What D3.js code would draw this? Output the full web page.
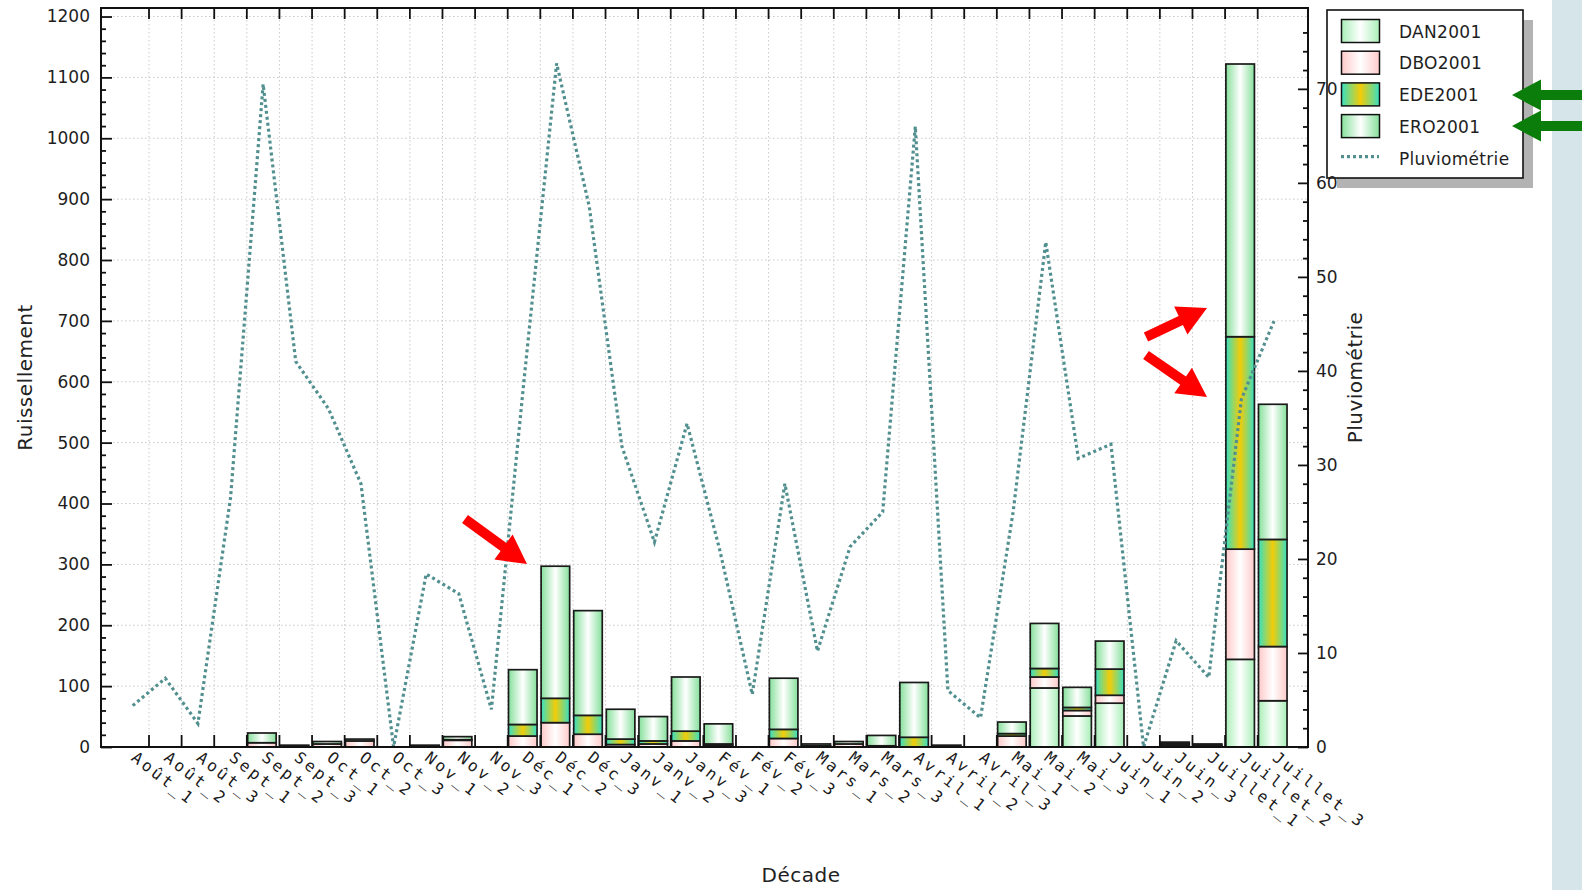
<!DOCTYPE html>
<html>
<head>
<meta charset="utf-8">
<script src="https://cdn.jsdelivr.net/npm/d3@7"></script>
<style>
  html, body { margin: 0; padding: 0; background: #fff; }
  svg { display: block; }
  .axis text { font-family: "DejaVu Sans", sans-serif; font-size: 17px; fill: #1e1e1e; }
  .axis line { stroke: #111; stroke-width: 1.8; }
  .axis .domain { display: none; }
  .cat-label { font-family: "DejaVu Sans Mono", monospace; font-size: 16px; letter-spacing: 2.9px; fill: #1a1a1a; }
  .axis-title { font-family: "DejaVu Sans", sans-serif; font-size: 20px; fill: #222; letter-spacing: 0.5px; }
  .legend-text { font-family: "DejaVu Sans", sans-serif; font-size: 17px; letter-spacing: 0.3px; fill: #1e1e1e; }
  .grid line { stroke: #c9c9c9; stroke-width: 1; stroke-dasharray: 1.5 2.5; }
</style>
</head>
<body>
<svg id="chart" width="1582" height="890"></svg>
<script>
/* ============================================
   Ruissellement / Pluviométrie par décade
   ============================================ */

const decades = ['Août_1', 'Août_2', 'Août_3', 'Sept_1', 'Sept_2', 'Sept_3',
  'Oct_1', 'Oct_2', 'Oct_3', 'Nov_1', 'Nov_2', 'Nov_3',
  'Déc_1', 'Déc_2', 'Déc_3', 'Janv_1', 'Janv_2', 'Janv_3',
  'Fév_1', 'Fév_2', 'Fév_3', 'Mars_1', 'Mars_2', 'Mars_3',
  'Avril_1', 'Avril_2', 'Avril_3', 'Mai_1', 'Mai_2', 'Mai_3',
  'Juin_1', 'Juin_2', 'Juin_3', 'Juillet_1', 'Juillet_2', 'Juillet_3'];

// stacked runoff, bottom to top
const dan2001 = [0, 0, 0, 0, 0, 0, 0, 0, 0, 0, 0, 0, 0, 0, 0, 0, 0, 0,
  0, 0, 0, 0, 0, 0, 0, 0, 0, 0, 97, 51, 72, 0, 3, 2, 144, 76];
const dbo2001 = [0, 0, 0, 0, 7, 1, 5, 10, 0, 1, 11, 0, 18, 40, 21, 4, 5, 10,
  3, 0, 14, 2, 5, 2, 0, 0, 0, 18, 18, 9, 13, 0, 2, 1, 181, 89];
const ede2001 = [0, 0, 0, 0, 0, 0, 0, 0, 0, 0, 1, 0, 19, 40, 31, 9, 5, 16,
  2, 0, 15, 0, 0, 0, 16, 0, 0, 4, 14, 5, 43, 0, 1, 0, 349, 176];
const ero2001 = [0, 0, 0, 0, 16, 2, 4, 3, 0, 2, 5, 0, 90, 217, 172, 49, 40, 89,
  33, 0, 84, 3, 4, 17, 90, 3, 0, 19, 74, 33, 46, 0, 2, 2, 448, 222];

// rainfall (right axis)
const pluviometrie = [4.4, 7.3, 2.5, 26.5, 70.5, 41, 36, 28, 0, 18.4, 16.3, 4,
  39, 72.7, 57.5, 32, 21.8, 34.4, 21, 5.6, 28, 10.2, 21.3, 25,
  66, 6, 3.1, 25, 53.7, 30.7, 32.2, 0, 11.3, 7.4, 37, 45.3];

const leftTicks = [0, 100, 200, 300, 400, 500, 600, 700, 800, 900, 1000, 1100, 1200];
const rightTicks = [0, 10, 20, 30, 40, 50, 60, 70];

const seriesStyle = [
  { key: 'DAN2001', stops: ['#a9efb7', '#ffffff', '#a9efb7'] },
  { key: 'DBO2001', stops: ['#ffcaca', '#ffffff', '#ffcaca'] },
  { key: 'EDE2001', stops: ['#36e0c4', '#f2cc08', '#36e0c4'] },
  { key: 'ERO2001', stops: ['#86e09b', '#ffffff', '#86e09b'] }
];
const lineColor = '#528f8f';

const plot = { left: 101, right: 1308, top: 8, bottom: 747 };
const svg = d3.select('#chart');

// background + side strip
svg.append('rect').attr('width', 1582).attr('height', 890).attr('fill', '#fff');
svg.append('rect').attr('x', 1552).attr('y', 0).attr('width', 30).attr('height', 890)
  .attr('fill', '#d5e5ea');

// gradients (edge -> centre -> edge)
const defs = svg.append('defs');
seriesStyle.forEach(s => {
  const g = defs.append('linearGradient').attr('id', 'grad-' + s.key)
    .attr('x1', 0).attr('x2', 1).attr('y1', 0).attr('y2', 0);
  s.stops.forEach((c, i) => {
    g.append('stop').attr('offset', (i * 50) + '%').attr('stop-color', c);
  });
});

// scales
const x = d3.scaleBand().domain(decades)
  .range([plot.left + 15.4, plot.right - 17.7]);
const yL = d3.scaleLinear().domain([0, 1214]).range([plot.bottom, plot.top]);
const yR = d3.scaleLinear().domain([0, 78.6]).range([plot.bottom, plot.top]);
const bounds = decades.slice(1).map(d => x(d));

// grid
const grid = svg.append('g').attr('class', 'grid');
grid.selectAll('.h').data(leftTicks.slice(1)).join('line')
  .attr('x1', plot.left).attr('x2', plot.right)
  .attr('y1', d => yL(d)).attr('y2', d => yL(d));
grid.selectAll('.v').data(bounds).join('line')
  .attr('x1', d => d).attr('x2', d => d)
  .attr('y1', plot.top).attr('y2', plot.bottom);

// stacked bars
const rows = decades.map((d, i) => ({
  decade: d, DAN2001: dan2001[i], DBO2001: dbo2001[i],
  EDE2001: ede2001[i], ERO2001: ero2001[i]
}));
const stacked = d3.stack().keys(seriesStyle.map(s => s.key))(rows);
const barW = x.bandwidth() * 0.9;

svg.append('g').selectAll('g').data(stacked).join('g')
  .attr('fill', s => `url(#grad-${s.key})`)
  .selectAll('rect')
  .data(s => s.filter(d => d[1] - d[0] > 0))
  .join('rect')
  .attr('x', d => x(d.data.decade) + 0.8)
  .attr('width', barW - 0.8)
  .attr('y', d => yL(d[1]))
  .attr('height', d => yL(d[0]) - yL(d[1]))
  .attr('stroke', '#1a1a1a')
  .attr('stroke-width', 1.7);

// category ticks (top and bottom, at category boundaries)
const catTicks = svg.append('g').attr('stroke', '#111').attr('stroke-width', 1.8);
catTicks.selectAll('.b').data(bounds).join('line')
  .attr('x1', d => d).attr('x2', d => d)
  .attr('y1', plot.bottom).attr('y2', plot.bottom - 12);
catTicks.selectAll('.t').data(bounds).join('line')
  .attr('x1', d => d).attr('x2', d => d)
  .attr('y1', plot.top).attr('y2', plot.top + 11);

// rainfall line
const line = d3.line()
  .x((d, i) => x(decades[i]) + x.bandwidth() / 2)
  .y(d => yR(d));
svg.append('path').datum(pluviometrie)
  .attr('d', line)
  .attr('fill', 'none')
  .attr('stroke', lineColor)
  .attr('stroke-width', 3.2)
  .attr('stroke-dasharray', '3 3');

// frame
svg.append('rect')
  .attr('x', plot.left).attr('y', plot.top)
  .attr('width', plot.right - plot.left).attr('height', plot.bottom - plot.top)
  .attr('fill', 'none').attr('stroke', '#111').attr('stroke-width', 2);

// left axis
const minorL = d3.range(20, 1201, 20).filter(v => v % 100 !== 0);
svg.append('g').attr('class', 'axis').attr('transform', `translate(${plot.left},0)`)
  .call(d3.axisLeft(yL).tickValues(minorL).tickSizeInner(-5).tickSizeOuter(0).tickFormat(''));
svg.append('g').attr('class', 'axis').attr('transform', `translate(${plot.left},0)`)
  .call(d3.axisLeft(yL).tickValues(leftTicks).tickSizeInner(-11).tickSizeOuter(0)
    .tickPadding(11).tickFormat(d3.format('d')));

// category labels, rotated
svg.append('g').selectAll('text').data(decades).join('text')
  .attr('class', 'cat-label')
  .attr('transform', d => `translate(${x(d) + x.bandwidth() / 2 + 5},${plot.bottom + 3}) rotate(38)`)
  .attr('dy', '0.75em')
  .text(d => d);

// axis titles
svg.append('text').attr('class', 'axis-title')
  .attr('transform', `translate(32,${(plot.top + plot.bottom) / 2}) rotate(-90)`)
  .attr('text-anchor', 'middle').text('Ruissellement');
svg.append('text').attr('class', 'axis-title')
  .attr('transform', `translate(1362,${(plot.top + plot.bottom) / 2}) rotate(-90)`)
  .attr('text-anchor', 'middle').text('Pluviométrie');
svg.append('text').attr('class', 'axis-title')
  .attr('x', 801).attr('y', 882)
  .attr('text-anchor', 'middle').text('Décade');

// legend
const lg = svg.append('g').attr('transform', 'translate(1327,10)');
lg.append('rect').attr('x', 10).attr('y', 10).attr('width', 196).attr('height', 168)
  .attr('fill', '#b3b3b3');
lg.append('rect').attr('width', 196).attr('height', 168)
  .attr('fill', '#fff').attr('stroke', '#111').attr('stroke-width', 1.6);
const rowH = 31.7;
seriesStyle.forEach((s, i) => {
  lg.append('rect')
    .attr('x', 14.5).attr('y', 9.5 + i * rowH).attr('width', 38).attr('height', 23)
    .attr('fill', `url(#grad-${s.key})`).attr('stroke', '#111').attr('stroke-width', 1.5);
  lg.append('text').attr('class', 'legend-text')
    .attr('x', 72).attr('y', 27.5 + i * rowH).text(s.key);
});
lg.append('line')
  .attr('x1', 14).attr('x2', 52).attr('y1', 146.7).attr('y2', 146.7)
  .attr('stroke', lineColor).attr('stroke-width', 3.2).attr('stroke-dasharray', '3 3');
lg.append('text').attr('class', 'legend-text')
  .attr('x', 72).attr('y', 155).text('Pluviométrie');

// right axis (drawn after the legend: its labels sit over the box edge)
const minorR = d3.range(2, 78, 2).filter(v => v % 10 !== 0);
svg.append('g').attr('class', 'axis').attr('transform', `translate(${plot.right},0)`)
  .call(d3.axisRight(yR).tickValues(minorR).tickSizeInner(-5).tickSizeOuter(0).tickFormat(''));
svg.append('g').attr('class', 'axis').attr('transform', `translate(${plot.right},0)`)
  .call(d3.axisRight(yR).tickValues(rightTicks).tickSizeInner(-10).tickSizeOuter(0).tickPadding(8));

// annotation arrows
function arrowPoints(x0, y0, x1, y1, shaft, headW, headL) {
  const len = Math.hypot(x1 - x0, y1 - y0);
  const ux = (x1 - x0) / len, uy = (y1 - y0) / len;
  const px = -uy, py = ux;
  const bx = x1 - ux * headL, by = y1 - uy * headL;
  const s = shaft / 2, h = headW / 2;
  return [
    [x0 + px * s, y0 + py * s], [bx + px * s, by + py * s], [bx + px * h, by + py * h],
    [x1, y1],
    [bx - px * h, by - py * h], [bx - px * s, by - py * s], [x0 - px * s, y0 - py * s]
  ];
}
const arrows = [
  { from: [465, 519], to: [527, 564], color: '#ff0000' },
  { from: [1146, 337], to: [1207, 308], color: '#ff0000' },
  { from: [1146, 355], to: [1207, 397], color: '#ff0000' },
  { from: [1584, 95], to: [1512, 95], color: '#0a7d0a' },
  { from: [1584, 126], to: [1512, 126], color: '#0a7d0a' }
];
svg.append('g').selectAll('polygon').data(arrows).join('polygon')
  .attr('points', a => arrowPoints(a.from[0], a.from[1], a.to[0], a.to[1], 10, 31, 29).join(' '))
  .attr('fill', a => a.color);
</script>
</body>
</html>
